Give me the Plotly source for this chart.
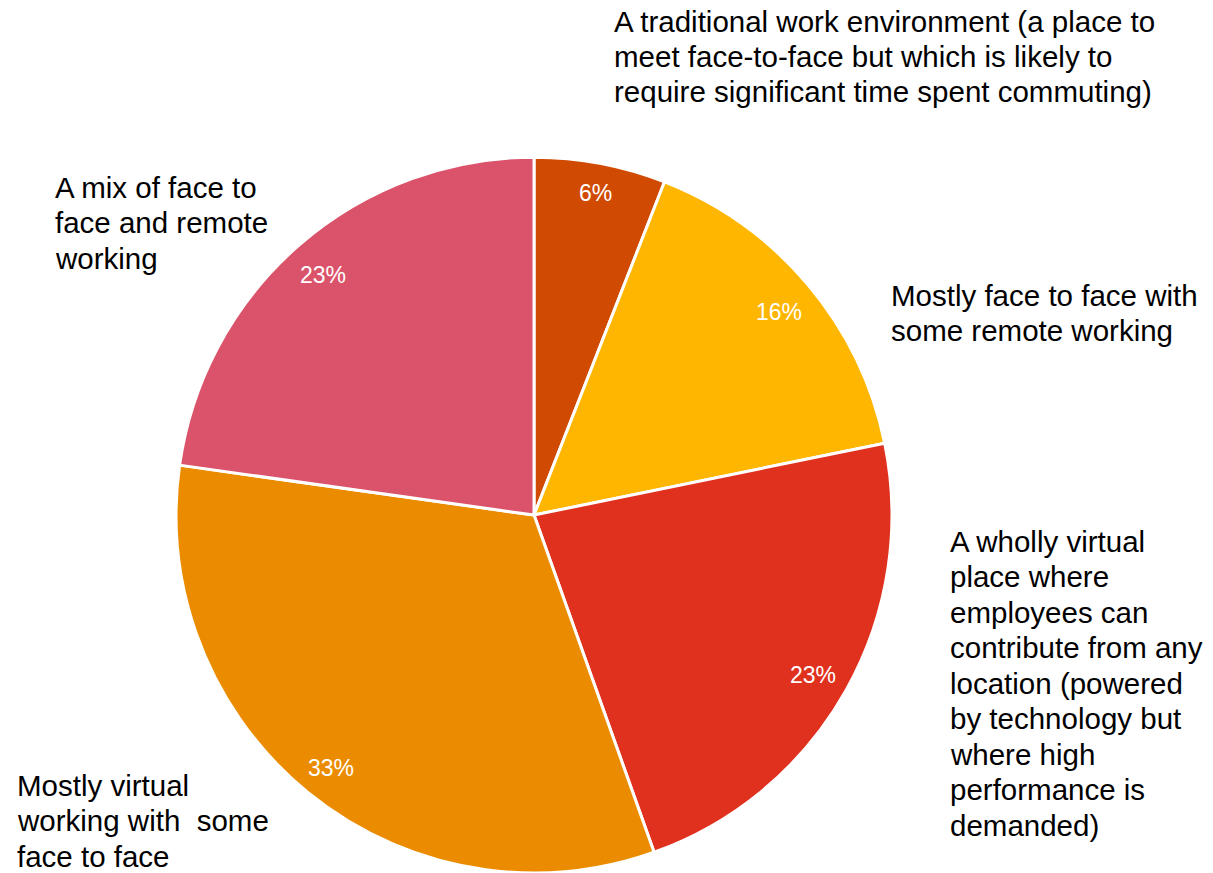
import math
import plotly.graph_objects as go

W, H = 1213, 873

# Survey shares, in clockwise order from 12 o'clock
categories = [
    "A traditional work environment (a place to\nmeet face-to-face but which is likely to\nrequire significant time spent commuting)",
    "Mostly face to face with\nsome remote working",
    "A wholly virtual\nplace where\nemployees can\ncontribute from any\nlocation (powered\nby technology but\nwhere high\nperformance is\ndemanded)",
    "Mostly virtual\nworking with  some\nface to face",
    "A mix of face to\nface and remote\nworking",
]
values = [6, 16, 23, 33, 23]
colors = ["#D04A02", "#FFB600", "#E0301E", "#EB8C00", "#DB536A"]

# Category label placement (left edge x, first line centre y, in pixels)
label_pos = [(612, 21), (889, 295), (948, 541), (15, 785), (53, 187)]
line_gap = 35.5

dom_x = [0.1451, 0.7354]
dom_y = [0.0, 0.82]

pct_size = 23

fig = go.Figure(
    go.Pie(
        values=values,
        labels=[c.replace("\n", " ") for c in categories],
        marker=dict(colors=colors, line=dict(color="white", width=3)),
        sort=False,
        direction="clockwise",
        rotation=0,
        textinfo="none",
        hoverinfo="label+value",
        domain=dict(x=dom_x, y=dom_y),
        showlegend=False,
    )
)

annotations = []

# Percentage labels at the inside end of each slice: the label box is pushed
# out along the bisector until its outer corner reaches an inset radius.
cx = (dom_x[0] + dom_x[1]) / 2 * W
cy = H - (dom_y[0] + dom_y[1]) / 2 * H
R = min((dom_x[1] - dom_x[0]) * W, (dom_y[1] - dom_y[0]) * H) / 2
r_in = R - 12
total = sum(values)
cum = 0
for v in values:
    mid = (cum + v / 2) / total * 2 * math.pi
    cum += v
    txt = f"{v}%"
    bw = (0.556 * (len(txt) - 1) + 0.889) * pct_size
    bh = 24
    s, c = abs(math.sin(mid)), abs(math.cos(mid))
    b = s * bw + c * bh
    c0 = (bw ** 2 + bh ** 2) / 4 - r_in ** 2
    d = (-b + math.sqrt(b * b - 4 * c0)) / 2
    px = cx + d * math.sin(mid)
    py = cy - d * math.cos(mid) + 3  # nudge so the digits, not the line box, sit centred
    annotations.append(dict(
        x=px / W, y=1 - py / H, xref="paper", yref="paper",
        text=txt, showarrow=False,
        font=dict(family="Liberation Sans, Arial", size=pct_size, color="white"),
        xanchor="center", yanchor="middle",
    ))

# Category labels, one annotation per line
for text, (lx, ly) in zip(categories, label_pos):
    for i, line in enumerate(text.split("\n")):
        annotations.append(dict(
            x=lx / W, y=1 - (ly + i * line_gap) / H, xref="paper", yref="paper",
            text=line.replace("  ", "&nbsp; "), showarrow=False,
            font=dict(family="Liberation Sans, Arial", size=29.5, color="black"),
            xanchor="left", yanchor="middle", align="left",
        ))

fig.update_layout(
    width=W, height=H,
    margin=dict(l=0, r=0, t=0, b=0),
    paper_bgcolor="white",
    plot_bgcolor="white",
    annotations=annotations,
)

fig.write_html("out.html")
